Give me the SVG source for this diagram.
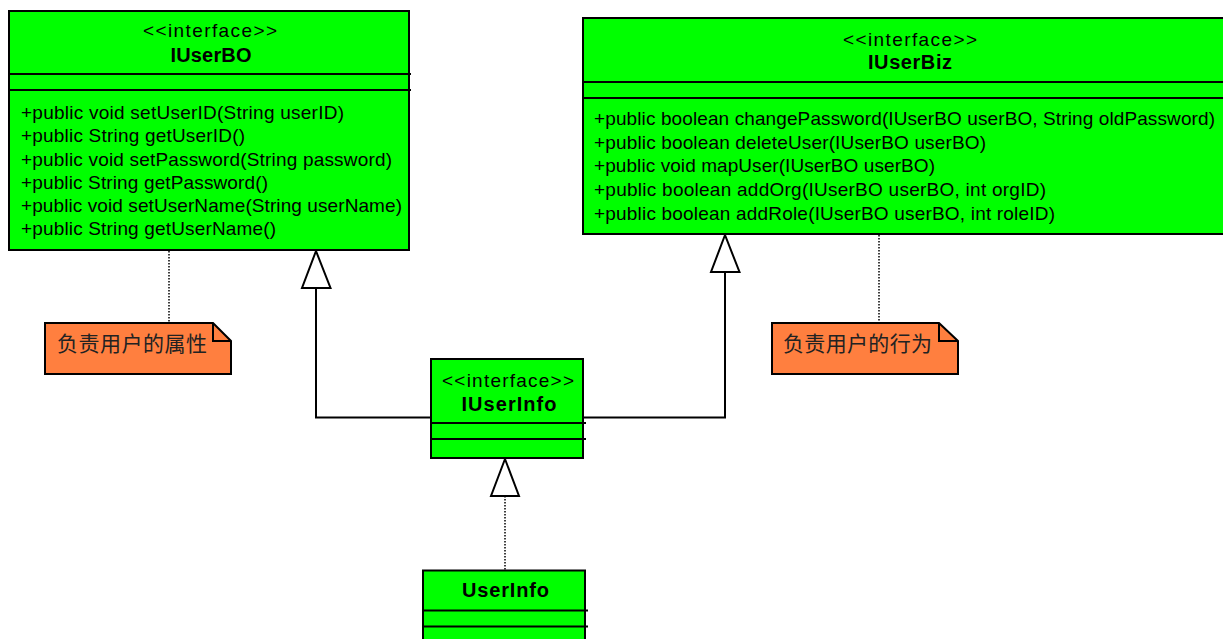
<svg xmlns="http://www.w3.org/2000/svg" width="1223" height="639" viewBox="0 0 1223 639">
<defs>
<style>
.box{fill:#00ff00;stroke:#000;stroke-width:2}
.div{stroke:#000;stroke-width:2}
.note{fill:#ff7f3f;stroke:#000;stroke-width:2}
.fold{fill:none;stroke:#000;stroke-width:2}
.st{font-family:"Liberation Sans",Arial,sans-serif;font-size:19px;fill:#000;text-anchor:middle}
.nm{font-family:"Liberation Sans",Arial,sans-serif;font-size:20px;font-weight:bold;fill:#000;text-anchor:middle}
.m{font-family:"Liberation Sans",Arial,sans-serif;font-size:19px;fill:#000}
.cn{font-family:"Noto Sans CJK SC",sans-serif;font-size:21px;fill:#222}
.ln{fill:none;stroke:#000;stroke-width:2}
.dot{fill:none;stroke:#000;stroke-width:1.5;stroke-dasharray:1.5,1.5}
.tri{fill:#fff;stroke:#000;stroke-width:2;stroke-linejoin:miter}
</style>
</defs>
<rect width="1223" height="639" fill="#fff"/>

<g id="connectors">
<line class="dot" x1="169" y1="251" x2="169" y2="323"/>
<line class="dot" x1="879" y1="235" x2="879" y2="323"/>
<polyline class="ln" points="431,417.5 316,417.5 316,288"/>
<polygon class="tri" points="316,251 302,288 330.5,288"/>
<polyline class="ln" points="583,417.5 725,417.5 725,272"/>
<polygon class="tri" points="725,235 711,272 739.5,272"/>
<line class="dot" x1="505" y1="496" x2="505" y2="570"/>
<polygon class="tri" points="505,459 491,496 519,496"/>
</g>

<g id="IUserBO">
<rect class="box" x="9" y="11" width="400" height="239"/>
<line class="div" x1="9" y1="74" x2="411" y2="74"/>
<line class="div" x1="9" y1="90" x2="411" y2="90"/>
<text class="st" x="210" y="37" textLength="134">&lt;&lt;interface&gt;&gt;</text>
<text class="nm" x="211" y="62" textLength="81">IUserBO</text>
<text class="m" x="21" y="119" textLength="323">+public void setUserID(String userID)</text>
<text class="m" x="21" y="142" textLength="224">+public String getUserID()</text>
<text class="m" x="21" y="165.5" textLength="371">+public void setPassword(String password)</text>
<text class="m" x="21" y="188.5" textLength="247">+public String getPassword()</text>
<text class="m" x="21" y="212" textLength="381">+public void setUserName(String userName)</text>
<text class="m" x="21" y="235" textLength="255">+public String getUserName()</text>
</g>

<g id="IUserBiz">
<rect class="box" x="583" y="18" width="660" height="216"/>
<line class="div" x1="583" y1="82" x2="1223" y2="82"/>
<line class="div" x1="583" y1="98" x2="1223" y2="98"/>
<text class="st" x="910" y="46" textLength="134">&lt;&lt;interface&gt;&gt;</text>
<text class="nm" x="910" y="69" textLength="84">IUserBiz</text>
<text class="m" x="594" y="125" textLength="621">+public boolean changePassword(IUserBO userBO, String oldPassword)</text>
<text class="m" x="594" y="148.5" textLength="392">+public boolean deleteUser(IUserBO userBO)</text>
<text class="m" x="594" y="172" textLength="341">+public void mapUser(IUserBO userBO)</text>
<text class="m" x="594" y="196" textLength="452">+public boolean addOrg(IUserBO userBO, int orgID)</text>
<text class="m" x="594" y="219.5" textLength="461">+public boolean addRole(IUserBO userBO, int roleID)</text>
</g>

<g id="note1">
<path class="note" d="M45,323 H213 L231,341 V374 H45 Z"/>
<polyline class="fold" points="213,323 213,341 231,341"/>
<text class="cn" x="57" y="351" textLength="150">负责用户的属性</text>
</g>

<g id="note2">
<path class="note" d="M772,323 H939 L958,341 V374 H772 Z"/>
<polyline class="fold" points="939,323 939,341 958,341"/>
<text class="cn" x="783" y="351" textLength="149">负责用户的行为</text>
</g>

<g id="IUserInfo">
<rect class="box" x="431" y="359" width="152" height="99"/>
<line class="div" x1="431" y1="423" x2="586" y2="423"/>
<line class="div" x1="431" y1="439" x2="586" y2="439"/>
<text class="st" x="508" y="386.5" textLength="132">&lt;&lt;interface&gt;&gt;</text>
<text class="nm" x="509" y="410.5" textLength="95">IUserInfo</text>
</g>

<g id="UserInfo">
<rect class="box" x="423" y="570.5" width="162" height="80"/>
<line class="div" x1="423" y1="610.5" x2="588" y2="610.5"/>
<line class="div" x1="423" y1="626.5" x2="588" y2="626.5"/>
<text class="nm" x="505.5" y="596.5" textLength="87">UserInfo</text>
</g>
</svg>
